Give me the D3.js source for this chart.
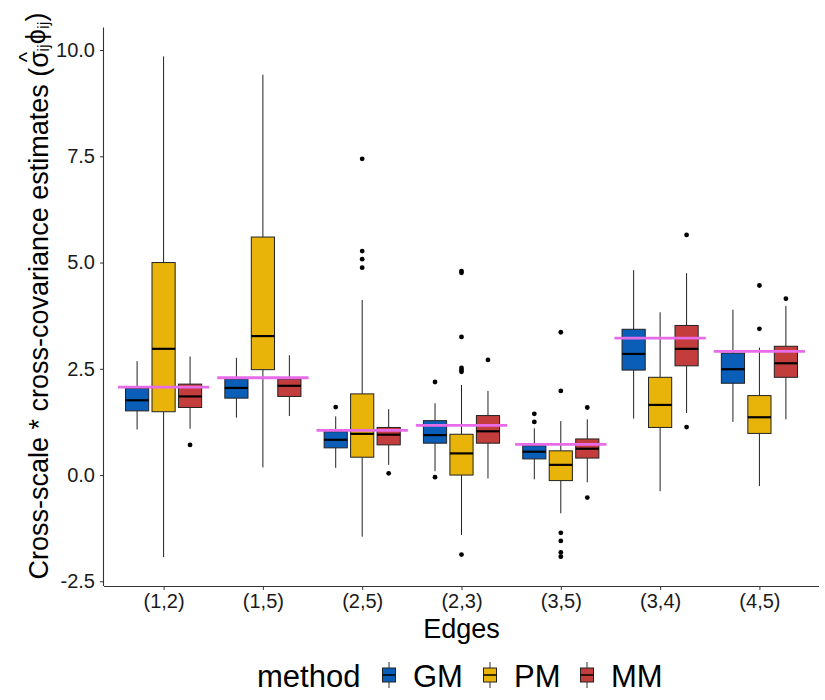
<!DOCTYPE html>
<html>
<head>
<meta charset="utf-8">
<script src="https://cdn.jsdelivr.net/npm/d3@7"></script>
<style>
  body { margin: 0; background: #fff; }
  text { font-family: "Liberation Sans", Arial, sans-serif; }
</style>
</head>
<body>
<svg width="825" height="700"></svg>
<script>
// categories and methods
const edges = ["(1,2)", "(1,5)", "(2,5)", "(2,3)", "(3,5)", "(3,4)", "(4,5)"];
const methods = ["GM", "PM", "MM"];
const methodColors = ["#0B5EB7", "#E8B40A", "#C43D3D"];

// box stats per edge: [lower whisker, q1, median, q3, upper whisker]
const gmStats = [
  [1.07, 1.51, 1.76, 2.04, 2.68],
  [1.35, 1.81, 2.05, 2.26, 2.76],
  [0.17, 0.64, 0.83, 1.02, 1.38],
  [0.09, 0.75, 0.94, 1.28, 1.69],
  [-0.10, 0.38, 0.55, 0.69, 1.10],
  [1.33, 2.47, 2.85, 3.43, 4.82],
  [1.25, 2.16, 2.49, 2.87, 3.89]
];
const pmStats = [
  [-1.93, 1.49, 2.97, 5.00, 9.85],
  [0.18, 2.48, 3.27, 5.60, 9.42],
  [-1.45, 0.42, 0.97, 1.91, 4.12],
  [-1.41, 0.00, 0.51, 0.96, 2.12],
  [-0.90, -0.13, 0.24, 0.57, 1.27],
  [-0.38, 1.12, 1.65, 2.30, 3.83],
  [-0.26, 0.98, 1.36, 1.87, 3.00]
];
const mmStats = [
  [1.09, 1.59, 1.85, 2.14, 2.79],
  [1.39, 1.85, 2.10, 2.26, 2.82],
  [0.24, 0.71, 0.95, 1.12, 1.55],
  [-0.08, 0.75, 1.03, 1.40, 1.98],
  [-0.17, 0.40, 0.62, 0.85, 1.31],
  [1.46, 2.57, 2.97, 3.52, 4.75],
  [1.31, 2.30, 2.63, 3.03, 3.98]
];

// outliers per edge
const gmOutliers = [[], [], [1.60], [2.19, -0.05], [1.44, 1.25], [], []];
const pmOutliers = [[], [], [7.44, 5.27, 5.08, 4.88],
  [4.80, 4.76, 3.25, 2.52, 2.47, 2.43, -1.87],
  [3.36, 1.98, -1.36, -1.55, -1.82, -1.92], [], [4.46, 3.44]];
const mmOutliers = [[0.71], [], [0.04], [2.71], [1.59, -0.53], [5.65, 1.13], [4.15]];

// true values (pink reference lines)
const trueValues = [2.07, 2.29, 1.05, 1.17, 0.72, 3.22, 2.91];

const yTicks = [-2.5, 0, 2.5, 5, 7.5, 10];

const svg = d3.select("svg");
const panel = { left: 104, right: 819, top: 27.5, bottom: 586 };

const x = d3.scalePoint()
  .domain(edges)
  .range([panel.left, panel.right])
  .padding(0.6);
const step = x.step();

const y = d3.scaleLinear()
  .domain([-2.61, 10.53])
  .range([panel.bottom, panel.top]);

const dodge = 0.8 / 3 * step;
const boxW = 0.7 / 3 * step;

const allStats = [gmStats, pmStats, mmStats];
const allOutliers = [gmOutliers, pmOutliers, mmOutliers];

const rows = [];
edges.forEach((e, i) => {
  methods.forEach((m, j) => {
    rows.push({ edge: e, j: j, s: allStats[j][i], out: allOutliers[j][i] });
  });
});

const g = svg.append("g");

const box = g.selectAll("g.box").data(rows).enter().append("g")
  .attr("class", "box")
  .attr("transform", d => `translate(${x(d.edge) + (d.j - 1) * dodge},0)`);

// whiskers
box.append("line")
  .attr("x1", 0).attr("x2", 0)
  .attr("y1", d => y(d.s[0])).attr("y2", d => y(d.s[1]))
  .attr("stroke", "#222").attr("stroke-width", 1);
box.append("line")
  .attr("x1", 0).attr("x2", 0)
  .attr("y1", d => y(d.s[3])).attr("y2", d => y(d.s[4]))
  .attr("stroke", "#222").attr("stroke-width", 1);

box.append("rect")
  .attr("x", -boxW / 2)
  .attr("width", boxW)
  .attr("y", d => y(d.s[3]))
  .attr("height", d => y(d.s[1]) - y(d.s[3]))
  .attr("fill", d => methodColors[d.j])
  .attr("stroke", "#222")
  .attr("stroke-width", 1);

box.append("line")
  .attr("x1", -boxW / 2).attr("x2", boxW / 2)
  .attr("y1", d => y(d.s[2])).attr("y2", d => y(d.s[2]))
  .attr("stroke", "#000").attr("stroke-width", 2.2);

box.selectAll("circle").data(d => d.out).enter().append("circle")
  .attr("cx", 0)
  .attr("cy", v => y(v))
  .attr("r", 2.4)
  .attr("fill", "#000");

// true value lines
g.selectAll("line.truth").data(trueValues).enter().append("line")
  .attr("class", "truth")
  .attr("x1", (d, i) => x(edges[i]) - 0.46 * step)
  .attr("x2", (d, i) => x(edges[i]) + 0.46 * step)
  .attr("y1", d => y(d)).attr("y2", d => y(d))
  .attr("stroke", "#E86BE8")
  .attr("stroke-width", 2.8);

// axes
const xAxis = svg.append("g")
  .attr("transform", `translate(0,${panel.bottom})`)
  .call(d3.axisBottom(x).tickSize(4).tickSizeOuter(0));
xAxis.select(".domain").attr("d", `M${panel.left},0.5H${panel.right}`);

const yAxis = svg.append("g")
  .attr("transform", `translate(${panel.left},0)`)
  .call(d3.axisLeft(y).tickValues(yTicks).tickFormat(d => d.toFixed(1)).tickSize(4).tickSizeOuter(0));
yAxis.select(".domain").attr("d", `M-0.5,${panel.top}V${panel.bottom}`);

[xAxis, yAxis].forEach(a => {
  a.select(".domain").attr("stroke", "#333").attr("stroke-width", 1.1);
  a.selectAll(".tick line").attr("stroke", "#333");
  a.selectAll(".tick text")
    .attr("fill", "#1a1a1a")
    .style("font-size", "20px")
    .style("font-family", "Liberation Sans, Arial, sans-serif");
});
xAxis.selectAll(".tick text").attr("y", 4).attr("dy", "0.9em");
yAxis.selectAll(".tick text").attr("dx", "-0.1em");

// axis titles
svg.append("text")
  .attr("x", (panel.left + panel.right) / 2)
  .attr("y", 638)
  .attr("text-anchor", "middle")
  .style("font-size", "27px")
  .text("Edges");

const yt = svg.append("text")
  .attr("transform", `translate(48,296) rotate(-90)`)
  .attr("text-anchor", "middle")
  .style("font-size", "27px");
yt.append("tspan").text("Cross-scale * cross-covariance estimates (");
yt.append("tspan").text("σ");
yt.append("tspan").attr("dx", "-0.5em").attr("dy", "-0.62em").style("font-size", "22px").text("^");
yt.append("tspan").attr("dy", "0.62em").attr("baseline-shift", "-25%").style("font-size", "17px").text("ij");
yt.append("tspan").text("ϕ");
yt.append("tspan").attr("baseline-shift", "-25%").style("font-size", "17px").text("ij");
yt.append("tspan").text(")");

// legend
const legend = svg.append("g").attr("transform", "translate(0,675)");
legend.append("text")
  .attr("x", 257).attr("y", 11.5)
  .style("font-size", "31px")
  .text("method");
const keyX = [389, 490, 587];
methods.forEach((m, j) => {
  const k = legend.append("g").attr("transform", `translate(${keyX[j]},0)`);
  k.append("line").attr("y1", -13).attr("y2", 13).attr("stroke", "#333");
  k.append("rect").attr("x", -6.5).attr("y", -7).attr("width", 13).attr("height", 14)
    .attr("fill", methodColors[j]).attr("stroke", "#222");
  k.append("line").attr("x1", -6.5).attr("x2", 6.5).attr("stroke", "#000").attr("stroke-width", 1.5);
  legend.append("text")
    .attr("x", keyX[j] + 24).attr("y", 11.5)
    .style("font-size", "31px")
    .text(m);
});
</script>
</body>
</html>
